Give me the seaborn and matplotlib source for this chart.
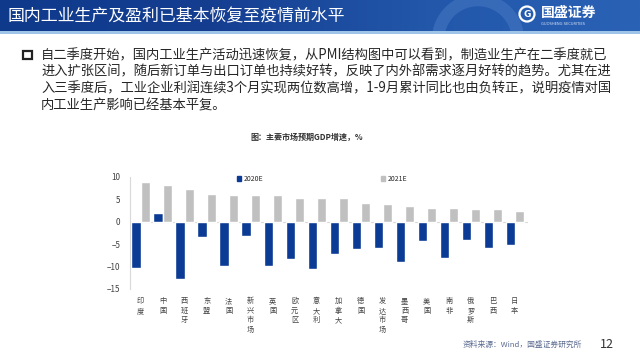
import numpy as np
import pandas as pd
import matplotlib
matplotlib.use("Agg")
import matplotlib.pyplot as plt
import matplotlib.patches as mpatches
from matplotlib.colors import LinearSegmentedColormap
import seaborn as sns

regions = ["印度", "中国", "西班牙", "东盟", "法国", "新兴市场", "英国", "欧元区", "意大利",
           "加拿大", "德国", "发达市场", "墨西哥", "美国", "南非", "俄罗斯", "巴西", "日本"]
gdp_2020 = [-10.3, 1.9, -12.8, -3.4, -9.8, -3.3, -9.8, -8.3, -10.6,
            -7.1, -6.0, -5.8, -9.0, -4.3, -8.0, -4.1, -5.8, -5.3]
gdp_2021 = [8.8, 8.2, 7.2, 6.2, 6.0, 6.0, 5.9, 5.2, 5.2,
            5.2, 4.2, 3.9, 3.5, 3.1, 3.0, 2.8, 2.8, 2.3]
series_names = ["2020E", "2021E"]
y_ticks = [-15, -10, -5, 0, 5, 10]

title = "国内工业生产及盈利已基本恢复至疫情前水平"
para_lines = [
    "自二季度开始，国内工业生产活动迅速恢复，从PMI结构图中可以看到，制造业生产在二季度就已",
    "进入扩张区间，随后新订单与出口订单也持续好转，反映了内外部需求逐月好转的趋势。尤其在进",
    "入三季度后，工业企业利润连续3个月实现两位数高增，1-9月累计同比也由负转正，说明疫情对国",
    "内工业生产影响已经基本平复。",
]
chart_title = "图：主要市场预期GDP增速，%"
source = "资料来源：Wind，国盛证券研究所"
page_no = "12"

sns.set_style("white")
plt.rcParams["font.family"] = ["Noto Sans CJK SC", "DejaVu Sans"]

df = pd.DataFrame({
    "region": regions * 2,
    "value": gdp_2020 + gdp_2021,
    "year": [series_names[0]] * len(regions) + [series_names[1]] * len(regions),
})

W, H = 640, 360
fig = plt.figure(figsize=(6.4, 3.6), dpi=100)

bg = fig.add_axes([0, 0, 1, 1])
bg.set_xlim(0, W)
bg.set_ylim(H, 0)
bg.axis("off")

grad = np.linspace(0, 1, 256)[None, :]
cmap = LinearSegmentedColormap.from_list("hdr", ["#0f3a8c", "#153e91", "#2257aa", "#2a62b6"])
bg.imshow(grad, extent=[0, W, 31, 0], cmap=cmap, aspect="auto", zorder=0)
hdr_clip = mpatches.Rectangle((0, 0), W, 31, transform=bg.transData)
arc = mpatches.Arc((478, 40), 80, 80, theta1=0, theta2=360,
                   color="#4a7cc4", lw=9, alpha=0.5, zorder=1)
bg.add_patch(arc)
arc.set_clip_path(hdr_clip)
bg.add_patch(mpatches.Rectangle((0, 31), W, 2.5, color="#9ec4e8", zorder=2, lw=0))
bg.text(8, 16, title, color="white", fontsize=12.2, va="center", ha="left", zorder=3)

# logo
bg.add_patch(mpatches.Circle((527, 14), 7.5, fill=False, ec="white", lw=1.6, zorder=3))
bg.text(527, 14.5, "G", color="white", fontsize=6.5, fontweight="bold",
        ha="center", va="center", zorder=3, family=["DejaVu Sans"])
bg.text(541, 13, "国盛证券", color="white", fontsize=10, fontweight="bold",
        ha="left", va="center", zorder=3)
bg.text(541, 24, "GUOSHENG SECURITIES", color="#d8e4f5", fontsize=2.6,
        ha="left", va="center", zorder=3, family=["DejaVu Sans"])

# bullet paragraph
bg.add_patch(mpatches.Rectangle((23, 50.5), 8.5, 8, fill=False, ec="#222222", lw=1.6, zorder=3))
for i, line in enumerate(para_lines):
    bg.text(41, 55 + i * 16.7, line, fontsize=9.55, color="#262626", va="center", ha="left")

bg.text(307, 137, chart_title, fontsize=5.8, fontweight="bold", color="#333333",
        ha="center", va="center")

bg.text(522, 345, source, fontsize=5.6, style="italic", color="#5a6a90",
        ha="center", va="center")
bg.text(607, 344, page_no, fontsize=9, color="#333333", ha="center", va="center")

# bar chart axes
ax = fig.add_axes([130 / W, 71 / H, 398 / W, (289 - 176.7) / H])
ax.patch.set_alpha(0)
sns.barplot(data=df, x="region", y="value", hue="year", order=regions,
            hue_order=series_names, palette=["#0b3b94", "#c0c0c0"], saturation=1,
            width=0.83, gap=0, ax=ax, legend=False)
ax.set_ylim(-15, 10)
ax.set_yticks(y_ticks)
ax.set_xlim(-0.48, 17.6)
ax.axhline(0, color="#d9d9d9", lw=0.8, zorder=0)
for s in ["top", "right", "bottom"]:
    ax.spines[s].set_visible(False)
ax.spines["left"].set_color("#d9d9d9")
ax.spines["left"].set_linewidth(0.8)
ax.set_xlabel("")
ax.set_ylabel("")
ax.set_xticks(range(len(regions)))
ax.set_xticklabels(["\n".join(r) for r in regions], fontsize=5.2, color="#444444",
                   linespacing=1.25, va="top")
ax.tick_params(axis="x", length=0, pad=6)
ax.tick_params(axis="y", length=0, pad=7, labelsize=5.8, labelcolor="#404040")

handles = [mpatches.Patch(color="#0b3b94"), mpatches.Patch(color="#c0c0c0")]
fig.legend(handles, series_names, loc="center", bbox_to_anchor=(322 / W, 1 - 179 / H),
           ncol=2, frameon=False, fontsize=5, handlelength=0.6, handleheight=0.6,
           handletextpad=0.3, columnspacing=17)

fig.savefig("out.png", dpi=100)
